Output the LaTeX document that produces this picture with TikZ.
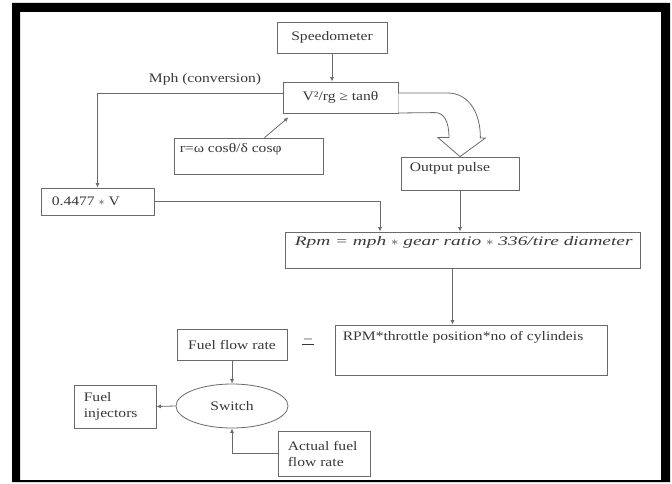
\documentclass[tikz,border=0pt]{standalone}
\usepackage{fontspec}
\usepackage{graphicx}
\setmainfont{Liberation Serif}[FakeStretch=1.2]
\usetikzlibrary{shapes.geometric,arrows.meta,calc}
\definecolor{linegray}{HTML}{6A6A6A}
\definecolor{txtgray}{HTML}{383838}
\begin{document}
\begin{tikzpicture}[x=1pt,y=-1pt,
  line/.style={draw=linegray, line width=0.8pt},
  txt/.style={text=txtgray, inner sep=0pt, font=\fontsize{13}{16}\selectfont},
  box/.style={line, rectangle, inner sep=0pt, txt},
  arr/.style={line, -{Latex[length=4.5pt,width=4pt]}},
]
\useasboundingbox (0,0) rectangle (672,484);
% frame
\fill[black, even odd rule] (12,3) rectangle (670,482) (20,12) rectangle (661,480);

% boxes
\node[box, minimum width=110pt, minimum height=31pt] (spd) at (332,37.5) {Speedometer};
\node[box, minimum width=115pt, minimum height=31pt] (vbox) at (340.5,97.5) {V²/rg ≥ tanθ};
\node[txt] (mph) at (205,79) {Mph (conversion)};
\node[box, minimum width=149pt, minimum height=36pt] (rbox) at (248.5,156) {};
\node[txt, anchor=west] (rtxt) at ([xshift=6pt,yshift=-12pt]rbox.north west) {r=ω cosθ/δ cosφ};
\node[box, minimum width=118pt, minimum height=33pt] (out) at (460,173.5) {};
\node[txt, anchor=west] (outtxt) at ([xshift=9pt,yshift=-12pt]out.north west) {Output pulse};
\node[box, minimum width=113pt, minimum height=27pt] (c0) at (97.5,201.5) {};
\node[txt, anchor=west] (c0txt) at ([xshift=11pt]c0.west) {0.4477 $\ast$ V};
\node[box, minimum width=355pt, minimum height=36pt] (rpm) at (462.5,250) {};
\node[txt, anchor=west] (rpmtxt) at ([xshift=10pt,yshift=-11pt]rpm.north west) {\scalebox{1.24}[1]{\itshape Rpm = mph $\ast$ gear ratio $\ast$ 336/tire diameter}};
\node[box, minimum width=272pt, minimum height=50pt] (rpm2) at (471,350) {};
\node[txt, anchor=west] (rpm2txt) at ([xshift=8pt,yshift=-13pt]rpm2.north west) {RPM*throttle position*no of cylindeis};
\node[box, minimum width=110pt, minimum height=31pt] (ffr) at (232,344.5) {Fuel flow rate};
\node[txt] (eq) at (308,342) {\underline{\,–\,}};
\node[line, ellipse, txt, minimum width=112pt, minimum height=44pt] (sw) at (232,406) {Switch};
\node[box, minimum width=82pt, minimum height=43pt] (inj) at (115,406.5) {};
\node[txt, anchor=west, align=left] (injtxt) at ([xshift=10pt]inj.west) {Fuel\\injectors};
\node[box, minimum width=92pt, minimum height=45pt] (act) at (324,453.5) {};
\node[txt, anchor=west, align=left] (acttxt) at ([xshift=10pt]act.west) {Actual fuel\\flow rate};

\coordinate (vin) at ([xshift=-52pt,yshift=-4pt]vbox.south);

% connectors
\draw[arr] (spd.south) -- (spd.south |- vbox.north);
\draw[arr] ([yshift=4.5pt]vbox.west) -| (c0.north);
\draw[arr] ([xshift=16pt]rbox.north) -- (vin);
\draw[arr] (c0.east) -| ([xshift=-82.5pt]rpm.north);
\draw[arr] (out.south) -- (out.south |- rpm.north);
\draw[arr] ([xshift=-10pt]rpm.south) -- ([xshift=-10pt]rpm.south |- rpm2.north);
\draw[arr] (ffr.south) -- (sw.north);
\draw[arr] (sw.west) -- (inj.east);
\draw[arr] (act.west) -| (sw.south);

% hollow curved arrow
\draw[line, fill=white] ([yshift=4.5pt]vbox.east) -- ++(49,0)
  .. controls +(21,0) and +(0,-26) .. ++(33,45)
  -- ++(5,0) -- (out.north) -- ++(-22,-19) -- ++(11,0)
  .. controls +(0,-16) and +(9,0) .. ++(-14,-25)
  -- ([yshift=-15.5pt]vbox.east);
\end{tikzpicture}
\end{document}
